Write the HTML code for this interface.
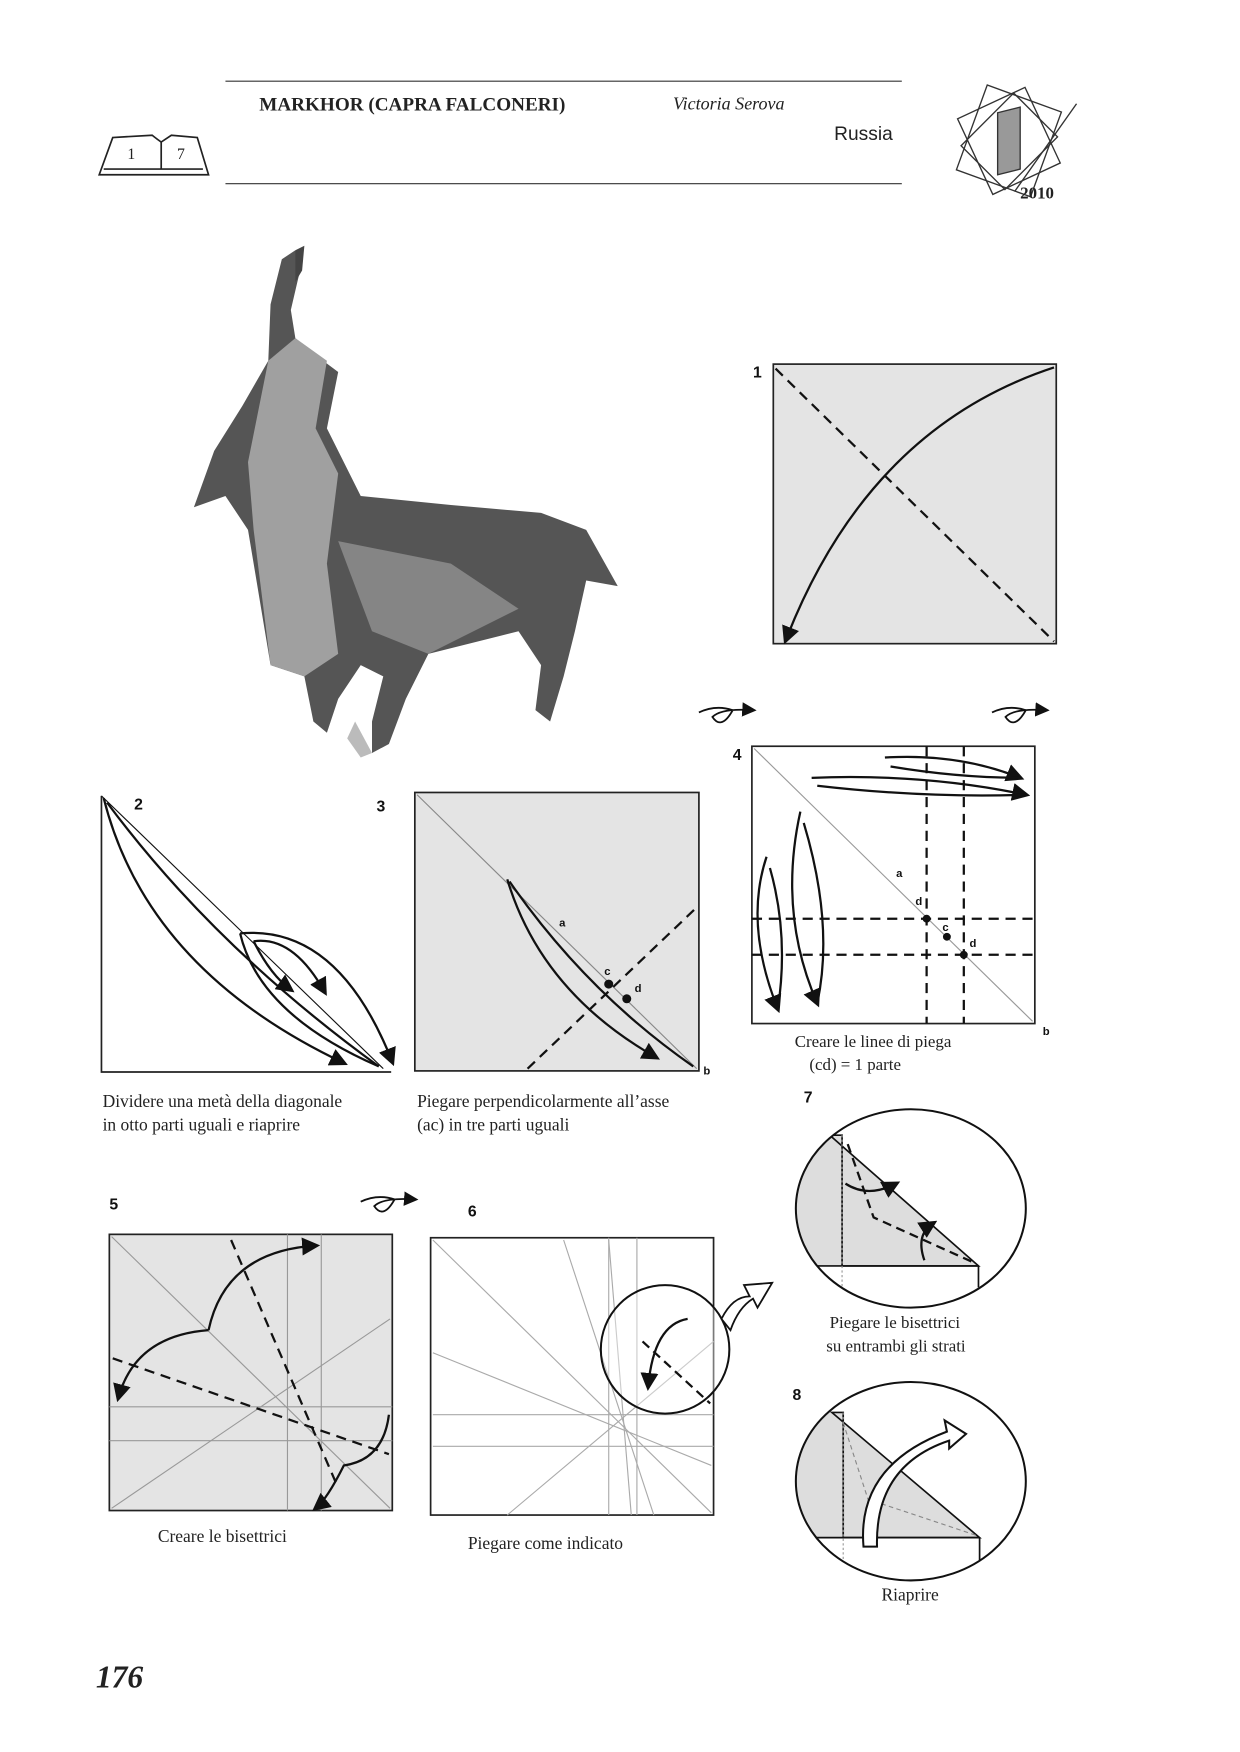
<!DOCTYPE html>
<html><head><meta charset="utf-8"><style>
html,body{margin:0;padding:0;background:#fff}
svg{display:block}
.s{font-family:"Liberation Serif",serif;fill:#222}
.n{font-family:"Liberation Sans",sans-serif;font-weight:bold;fill:#111}
</style></head><body>
<svg width="1240" height="1752" viewBox="0 0 1100 1554.2" xmlns="http://www.w3.org/2000/svg">
<defs><marker id="ah" markerWidth="8" markerHeight="8" refX="6" refY="4" orient="auto"><path d="M0,0 L8,4 L0,8 z" fill="#111"/></marker></defs>
<g>
<line x1="200" y1="72" x2="800" y2="72" stroke="#333" stroke-width="1"/>
<line x1="200" y1="163" x2="800" y2="163" stroke="#333" stroke-width="1"/>
<text class="s" x="230" y="98" font-size="17" font-weight="bold">MARKHOR (CAPRA FALCONERI)</text>
<text class="s" x="597" y="97" font-size="16" font-style="italic">Victoria Serova</text>
<text x="740" y="124" font-size="17" font-family="Liberation Sans, sans-serif" fill="#222">Russia</text>
</g>
<g fill="none" stroke="#222" stroke-width="1.5">
<path d="M88,155 L100,122 L135,120 Q140,124 143,126 Q146,124 152,120 L175,122 L185,155 Z"/>
<path d="M92,150 L180,150"/>
<line x1="143" y1="126" x2="143" y2="150"/>
<text class="s" x="113" y="141" font-size="14" stroke="none">1</text>
<text class="s" x="157" y="141" font-size="14" stroke="none">7</text>
</g>
<g fill="none" stroke="#333" stroke-width="1.2">
<rect x="860" y="85" width="70" height="80" transform="rotate(20 895 125)"/>
<rect x="862" y="88" width="66" height="74" transform="rotate(-25 895 125)"/>
<rect x="868" y="92" width="55" height="66" transform="rotate(45 895 125)"/>
<path d="M885,100 L905,95 L905,150 L885,155 Z" fill="#999"/>
<line x1="900" y1="170" x2="955" y2="92"/>
<text class="s" x="905" y="176" font-size="15" font-weight="bold" stroke="none">2010</text>
</g>
<g>
<path d="M250,230 L262,222 L265,245 L258,275 L262,300 L280,315 L300,330 L290,380 L320,440 L400,448 L480,455 L520,470 L548,520 L520,515 L510,560 L500,600 L488,640 L475,630 L480,590 L460,560 L380,580 L360,620 L345,660 L330,668 L330,640 L340,600 L320,590 L300,620 L290,650 L278,640 L270,600 L240,590 L220,470 L200,440 L172,450 L190,400 L215,360 L238,320 L240,270 Z" fill="#555"/>
<path d="M262,222 L270,218 L268,240 L262,250 Z" fill="#444"/>
<path d="M238,320 L262,300 L290,320 L280,380 L300,420 L290,500 L300,580 L270,600 L240,590 L225,470 L220,410 Z" fill="#a0a0a0"/>
<path d="M300,480 L400,500 L460,540 L380,580 L330,560 Z" fill="#858585"/>
<path d="M315,640 L330,668 L320,672 L308,655 Z" fill="#bbb"/>
</g>
<g>
<text class="n" x="668" y="335" font-size="14">1</text>
<rect x="686" y="323" width="251" height="248" fill="#e4e4e4" stroke="#222" stroke-width="1.5"/>
<line x1="688" y1="327" x2="935" y2="569" stroke="#111" stroke-width="2" stroke-dasharray="9,6"/>
<path d="M935,326 Q770,380 697,568" fill="none" stroke="#111" stroke-width="2" marker-end="url(#ah)"/>
</g>
<g fill="none" stroke="#111" stroke-width="1.6">
<path d="M620,632 Q635,625 650,630 Q640,648 632,636 Q640,628 668,630" marker-end="url(#ah)"/>
<path d="M880,632 Q895,625 910,630 Q900,648 892,636 Q900,628 928,630" marker-end="url(#ah)"/>
<path d="M320,1066 Q335,1059 350,1064 Q340,1082 332,1070 Q340,1062 368,1064" marker-end="url(#ah)"/>
</g>
<g>
<text class="n" x="650" y="674" font-size="14">4</text>
<rect x="667" y="662" width="251" height="246" fill="#fff" stroke="#222" stroke-width="1.5"/>
<line x1="669" y1="664" x2="916" y2="906" stroke="#999" stroke-width="1"/>
<line x1="822" y1="662" x2="822" y2="908" stroke="#111" stroke-width="2" stroke-dasharray="9,6"/>
<line x1="855" y1="662" x2="855" y2="908" stroke="#111" stroke-width="2" stroke-dasharray="9,6"/>
<line x1="667" y1="815" x2="918" y2="815" stroke="#111" stroke-width="2" stroke-dasharray="9,6"/>
<line x1="667" y1="847" x2="918" y2="847" stroke="#111" stroke-width="2" stroke-dasharray="9,6"/>
<circle cx="822" cy="815" r="3.5" fill="#111"/><circle cx="840" cy="831" r="3.5" fill="#111"/><circle cx="855" cy="847" r="3.5" fill="#111"/>
<text class="n" x="795" y="778" font-size="10">a</text><text class="n" x="812" y="803" font-size="10">d</text>
<text class="n" x="836" y="826" font-size="10">c</text><text class="n" x="860" y="840" font-size="10">d</text>
<g fill="none" stroke="#111" stroke-width="2">
<path d="M785,672 Q850,668 905,690" marker-end="url(#ah)"/><path d="M790,680 Q850,690 905,690"/>
<path d="M720,690 Q820,686 910,705" marker-end="url(#ah)"/><path d="M725,697 Q820,708 910,705"/>
<path d="M680,760 Q660,820 690,895" marker-end="url(#ah)"/><path d="M683,770 Q700,830 690,895"/>
<path d="M710,720 Q690,810 725,890" marker-end="url(#ah)"/><path d="M713,730 Q740,820 725,890"/>
</g>
<text class="s" x="705" y="929" font-size="15">Creare le linee di piega</text>
<text class="s" x="718" y="949" font-size="15">(cd) = 1 parte</text>
<text class="n" x="925" y="918" font-size="10">b</text>
</g>
<g>
<text class="n" x="119" y="718" font-size="14">2</text>
<text class="n" x="334" y="720" font-size="14">3</text>
<path d="M90,706 L90,951 L347,951" fill="none" stroke="#222" stroke-width="1.5"/>
<line x1="90" y1="706" x2="340" y2="948" stroke="#111" stroke-width="1"/>
<g fill="none" stroke="#111" stroke-width="2">
<path d="M92,708 Q130,860 305,943" marker-end="url(#ah)"/><path d="M95,712 Q190,840 336,946"/>
<path d="M213,828 Q300,820 348,942" marker-end="url(#ah)"/><path d="M213,828 Q230,900 336,946"/>
<path d="M225,835 Q260,830 288,880" marker-end="url(#ah)"/><path d="M225,835 Q240,865 258,878" marker-end="url(#ah)"/>
</g>
</g>
<g>
<rect x="368" y="703" width="252" height="247" fill="#e4e4e4" stroke="#222" stroke-width="1.5"/>
<line x1="370" y1="705" x2="618" y2="948" stroke="#888" stroke-width="1"/>
<line x1="468" y1="948" x2="618" y2="805" stroke="#111" stroke-width="2" stroke-dasharray="9,6"/>
<path d="M450,780 Q480,880 582,938" fill="none" stroke="#111" stroke-width="2" marker-end="url(#ah)"/>
<path d="M452,782 Q520,880 615,946" fill="none" stroke="#111" stroke-width="2"/>
<circle cx="540" cy="873" r="4" fill="#111"/><circle cx="556" cy="886" r="4" fill="#111"/>
<text class="n" x="496" y="822" font-size="10">a</text><text class="n" x="536" y="865" font-size="10">c</text><text class="n" x="563" y="880" font-size="10">d</text>
<text class="n" x="624" y="953" font-size="10">b</text>
</g>
<text class="s" x="91" y="982" font-size="15.5">Dividere una metà della diagonale</text>
<text class="s" x="91" y="1003" font-size="15.5">in otto parti uguali e riaprire</text>
<text class="s" x="370" y="982" font-size="15.5">Piegare perpendicolarmente all’asse</text>
<text class="s" x="370" y="1003" font-size="15.5">(ac) in tre parti uguali</text>
<g>
<text class="n" x="97" y="1073" font-size="14">5</text>
<rect x="97" y="1095" width="251" height="245" fill="#e4e4e4" stroke="#222" stroke-width="1.5"/>
<g stroke="#999" stroke-width="1" fill="none">
<line x1="99" y1="1097" x2="346" y2="1338"/><line x1="99" y1="1338" x2="346" y2="1170"/>
<line x1="255" y1="1095" x2="255" y2="1340"/><line x1="285" y1="1095" x2="285" y2="1340"/>
<line x1="97" y1="1248" x2="348" y2="1248"/><line x1="97" y1="1278" x2="348" y2="1278"/>
</g>
<g stroke="#111" stroke-width="2" fill="none">
<line x1="205" y1="1100" x2="300" y2="1320" stroke-dasharray="9,6"/>
<line x1="100" y1="1205" x2="345" y2="1290" stroke-dasharray="9,6"/>
<path d="M185,1180 Q200,1110 280,1105" marker-end="url(#ah)"/>
<path d="M185,1180 Q120,1185 105,1240" marker-end="url(#ah)"/>
<path d="M345,1255 Q340,1295 305,1300 Q290,1330 280,1338" marker-end="url(#ah)"/>
</g>
<text class="s" x="140" y="1368" font-size="15.5">Creare le bisettrici</text>
</g>
<g>
<text class="n" x="415" y="1079" font-size="14">6</text>
<rect x="382" y="1098" width="251" height="246" fill="#fff" stroke="#222" stroke-width="1.5"/>
<g stroke="#aaa" stroke-width="1" fill="none">
<line x1="384" y1="1100" x2="631" y2="1342"/><line x1="384" y1="1200" x2="631" y2="1300"/>
<line x1="500" y1="1100" x2="580" y2="1344"/><line x1="540" y1="1100" x2="560" y2="1344"/>
<line x1="384" y1="1255" x2="633" y2="1255"/><line x1="384" y1="1283" x2="633" y2="1283"/>
<line x1="540" y1="1098" x2="540" y2="1344"/><line x1="565" y1="1098" x2="565" y2="1344"/>
<line x1="450" y1="1344" x2="633" y2="1190"/>
</g>
<circle cx="590" cy="1197" r="57" fill="#fff" fill-opacity="0.4" stroke="#111" stroke-width="1.8"/>
<line x1="570" y1="1190" x2="630" y2="1245" stroke="#111" stroke-width="2" stroke-dasharray="8,5"/>
<path d="M610,1170 Q580,1175 575,1230" fill="none" stroke="#111" stroke-width="2" marker-end="url(#ah)"/>
<path d="M640,1170 Q650,1150 665,1150 L660,1140 L685,1138 L672,1160 L668,1152 Q655,1160 648,1180 Z" fill="#fff" stroke="#111" stroke-width="1.6"/>
<text class="s" x="415" y="1374" font-size="15.5">Piegare come indicato</text>
</g>
<g>
<text class="n" x="713" y="978" font-size="14">7</text>
<clipPath id="c7"><ellipse cx="808" cy="1072" rx="102" ry="88"/></clipPath>
<g clip-path="url(#c7)">
<rect x="700" y="1007" width="47" height="116" fill="#ddd"/>
<path d="M736,1007 L868,1123 L747,1123 L747,1007 Z" fill="#ddd" stroke="#111" stroke-width="1.5"/>
<line x1="700" y1="1123" x2="868" y2="1123" stroke="#111" stroke-width="1.5"/>
<line x1="868" y1="1123" x2="868" y2="1142" stroke="#111" stroke-width="1.5"/>
<line x1="747" y1="1007" x2="747" y2="1160" stroke="#999" stroke-width="1" stroke-dasharray="2,2"/>
<path d="M752,1015 L775,1080 L866,1121" fill="none" stroke="#111" stroke-width="2" stroke-dasharray="8,5"/>
<path d="M750,1050 Q770,1063 795,1050" fill="none" stroke="#111" stroke-width="2" marker-end="url(#ah)"/>
<path d="M820,1118 Q812,1095 828,1085" fill="none" stroke="#111" stroke-width="2" marker-end="url(#ah)"/>
</g>
<ellipse cx="808" cy="1072" rx="102" ry="88" fill="none" stroke="#111" stroke-width="1.8"/>
<text class="s" x="736" y="1178" font-size="15">Piegare le bisettrici</text>
<text class="s" x="733" y="1199" font-size="15">su entrambi gli strati</text>
</g>
<g>
<text class="n" x="703" y="1242" font-size="14">8</text>
<clipPath id="c8"><ellipse cx="808" cy="1314" rx="102" ry="88"/></clipPath>
<g clip-path="url(#c8)">
<rect x="700" y="1253" width="48" height="111" fill="#ddd"/>
<path d="M738,1253 L869,1364 L748,1364 L748,1253 Z" fill="#ddd" stroke="#111" stroke-width="1.5"/>
<line x1="700" y1="1364" x2="869" y2="1364" stroke="#111" stroke-width="1.5"/>
<line x1="869" y1="1364" x2="869" y2="1384" stroke="#111" stroke-width="1.5"/>
<line x1="748" y1="1253" x2="748" y2="1400" stroke="#999" stroke-width="1" stroke-dasharray="2,2"/>
<path d="M748,1262 L770,1330 L866,1362" fill="none" stroke="#888" stroke-width="1" stroke-dasharray="4,3"/>
</g>
<ellipse cx="808" cy="1314" rx="102" ry="88" fill="none" stroke="#111" stroke-width="1.8"/>
<path d="M766,1372 Q760,1300 840,1270 L838,1260 L857,1272 L842,1285 L842,1278 Q776,1300 778,1372 Z" fill="#fff" stroke="#111" stroke-width="1.8"/>
<text class="s" x="782" y="1420" font-size="15.5">Riaprire</text>
</g>
<text class="s" x="85" y="1497" font-size="28" font-weight="bold" font-style="italic">176</text>
</svg>
</body></html>
